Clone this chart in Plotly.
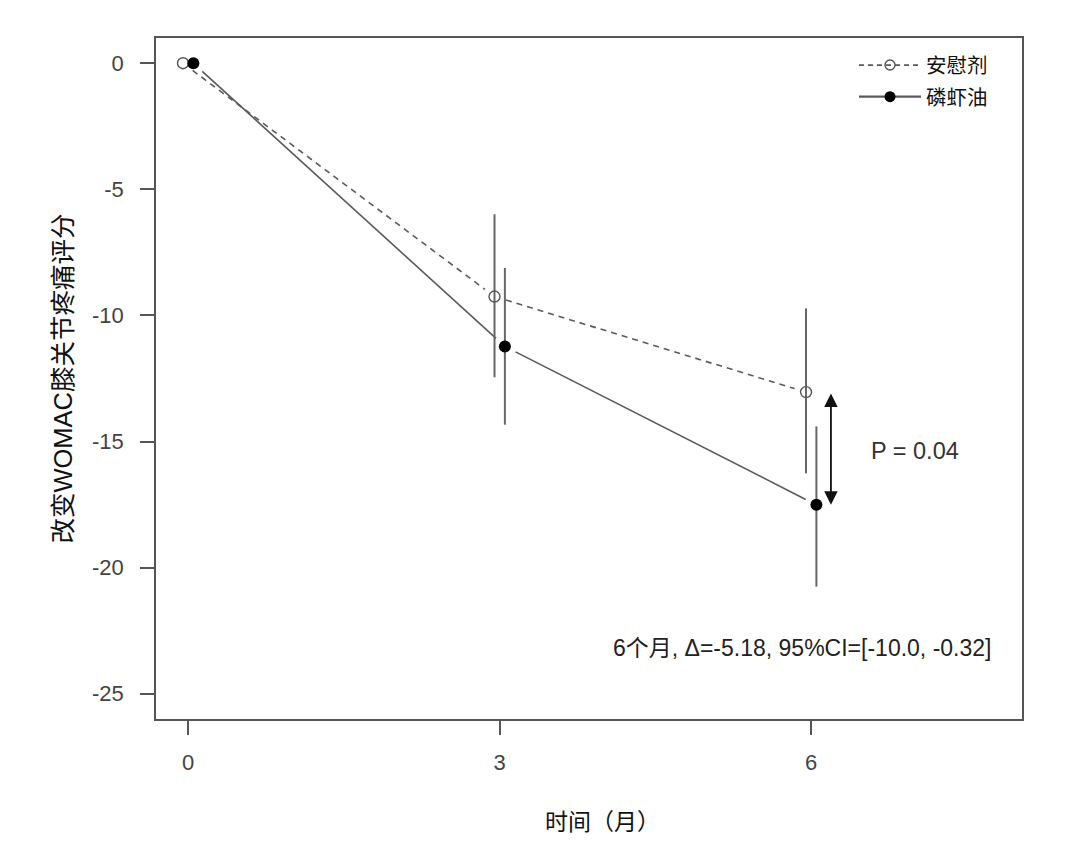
import plotly.graph_objects as go

# ---- data ----
months = [0, 3, 6]
offset = 0.05
placebo_mean = [0.0, -9.25, -13.04]
placebo_lo = [None, -12.45, -16.26]
placebo_hi = [None, -5.99, -9.72]
krill_mean = [0.0, -11.23, -17.51]
krill_lo = [None, -14.33, -20.75]
krill_hi = [None, -8.12, -14.40]
series_names = ["安慰剂", "磷虾油"]
x_ticks = [0, 3, 6]
y_ticks = [0, -5, -10, -15, -20, -25]
p_text = "P = 0.04"
ci_text = "6个月, Δ=-5.18, 95%CI=[-10.0, -0.32]"
x_title = "时间（月）"
y_title = "改变WOMAC膝关节疼痛评分"

# ---- layout constants ----
W, H = 1080, 866
ML, MR, MT, MB = 156, 58, 38, 147
XR = [-0.31, 8.03]
YR = [-26.0, 1.0]
pw, ph = W - ML - MR, H - MT - MB
sx = pw / (XR[1] - XR[0])
sy = ph / (YR[1] - YR[0])

GRAY = "#555555"
LCOL = "#5a5a5a"
CJK = "Noto Sans CJK SC"
LAT = "Liberation Sans, Arial, Noto Sans CJK SC, sans-serif"


def gapped(xs, ys, gap=12):
    ox, oy = [], []
    for i in range(len(xs) - 1):
        x0, y0, x1, y1 = xs[i], ys[i], xs[i + 1], ys[i + 1]
        dx, dy = (x1 - x0) * sx, (y1 - y0) * sy
        d = (dx * dx + dy * dy) ** 0.5
        f = gap / d
        ox += [x0 + (x1 - x0) * f, x1 - (x1 - x0) * f, None]
        oy += [y0 + (y1 - y0) * f, y1 - (y1 - y0) * f, None]
    return ox, oy


def err(mean, lo, hi):
    plus = [0 if h is None else h - m for m, h in zip(mean, hi)]
    minus = [0 if l is None else m - l for m, l in zip(mean, lo)]
    return plus, minus


px_ = [m - offset for m in months]
kx_ = [m + offset for m in months]

fig = go.Figure()

# connecting lines with gaps (R type="b")
gx, gy = gapped(px_, placebo_mean)
fig.add_trace(go.Scatter(x=gx, y=gy, mode="lines", showlegend=False, hoverinfo="skip",
                         line=dict(color=LCOL, width=1.6, dash="6px,5px")))
gx, gy = gapped(kx_, krill_mean)
fig.add_trace(go.Scatter(x=gx, y=gy, mode="lines", showlegend=False, hoverinfo="skip",
                         line=dict(color=LCOL, width=1.6)))

# points with CI bars
pp, pm = err(placebo_mean, placebo_lo, placebo_hi)
fig.add_trace(go.Scatter(x=px_, y=placebo_mean, mode="markers", showlegend=False,
                         marker=dict(symbol="circle-open", size=11, color=GRAY, line=dict(width=1.4, color=GRAY)),
                         error_y=dict(type="data", array=pp, arrayminus=pm, width=0,
                                      thickness=2, color="#666666")))
kp, km = err(krill_mean, krill_lo, krill_hi)
fig.add_trace(go.Scatter(x=kx_, y=krill_mean, mode="markers", showlegend=False,
                         marker=dict(symbol="circle", size=12, color="black"),
                         error_y=dict(type="data", array=kp, arrayminus=km, width=0,
                                      thickness=2, color="#666666")))

# legend entries
fig.add_trace(go.Scatter(x=[None], y=[None], mode="lines+markers", name=series_names[0],
                         legendgroup="a",
                         line=dict(color=LCOL, width=1.8, dash="5px,4px"),
                         marker=dict(symbol="circle-open", size=10, color=GRAY, line=dict(width=1.4, color=GRAY))))
fig.add_trace(go.Scatter(x=[None], y=[None], mode="lines+markers", name=series_names[1],
                         legendgroup="b",
                         line=dict(color=LCOL, width=2.2),
                         marker=dict(symbol="circle", size=11, color="black")))

# double arrow between group means at 6 months
fig.add_annotation(x=6.19, y=krill_mean[-1], ax=6.19, ay=placebo_mean[-1],
                   xref="x", yref="y", axref="x", ayref="y", text="", showarrow=True,
                   arrowside="end+start", arrowhead=2, arrowsize=1.5, arrowwidth=1.8,
                   arrowcolor="#111111", standoff=0, startstandoff=0)

fig.add_annotation(x=7.0, y=-15.36, xref="x", yref="y", text=p_text, showarrow=False,
                   font=dict(family=LAT, size=23.5, color="#333333"))
fig.add_annotation(x=4.07, y=-23.2, xref="x", yref="y", text=ci_text, showarrow=False,
                   xanchor="left", font=dict(family=LAT, size=23, color="#222222"))

# x-axis title (placed slightly right of centre as in the original)
fig.add_annotation(x=0.4465, y=-0.148, xref="paper", yref="paper", text=x_title,
                   showarrow=False, xanchor="left", yanchor="middle",
                   font=dict(family=CJK, size=23, color="#111111"))

axis_common = dict(showline=True, linecolor=GRAY, linewidth=1.5, mirror=True,
                   ticks="outside", ticklen=14, tickwidth=1.5, tickcolor=GRAY,
                   showgrid=False, zeroline=False,
                   tickfont=dict(family=LAT, size=22, color="#444444"))

fig.update_layout(
    width=W, height=H,
    margin=dict(l=ML, r=MR, t=MT, b=MB),
    paper_bgcolor="white", plot_bgcolor="white",
    xaxis=dict(range=XR, tickvals=x_ticks, ticktext=[str(v) for v in x_ticks],
               ticklabelstandoff=9, **axis_common),
    yaxis=dict(range=YR, tickvals=y_ticks, ticktext=[str(v) for v in y_ticks],
               ticklabelstandoff=12,
               title=dict(text="\u00a0\u00a0" + y_title,
                          font=dict(family=LAT, size=25.5, color="#111111"), standoff=12),
               **axis_common),
    legend=dict(x=0.806, y=0.9894, xanchor="left", yanchor="top", bgcolor="rgba(0,0,0,0)",
                font=dict(family=CJK, size=20.5, color="#111111"), tracegroupgap=2,
                itemwidth=62),
    showlegend=True,
)

fig.write_html("out.html", config={"displayModeBar": False},
               post_script="document.body.style.margin='0px';")
